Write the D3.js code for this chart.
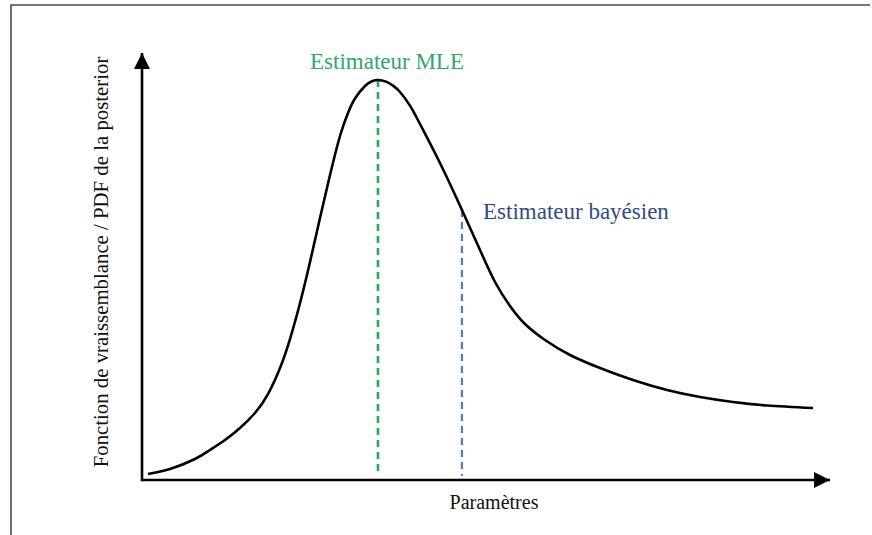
<!DOCTYPE html>
<html><head><meta charset="utf-8">
<script src="https://cdn.jsdelivr.net/npm/d3@7"></script>
<style>body{margin:0;background:#fff}svg{display:block}</style>
</head><body>
<svg id="c" width="872" height="535"></svg>
<script>
// Data (arbitrary units: parameter 0-100, density 0-100)
const paramValues = [0.87, 4.07, 7.70, 9.88, 12.06, 14.24, 16.42, 18.31, 20.06, 21.51, 22.97, 24.42, 25.87, 27.33, 28.78, 29.94, 30.96, 32.41, 33.43, 34.30, 35.47, 36.48, 37.50, 38.95, 40.41, 43.31, 46.51, 49.13, 51.31, 53.49, 55.67, 58.58, 62.21, 66.57, 71.37, 76.31, 81.10, 85.90, 90.84, 97.53];
const densityValues = [1.41, 2.58, 4.92, 7.03, 9.37, 12.18, 15.69, 20.14, 26.23, 33.02, 41.45, 51.05, 61.36, 71.43, 80.56, 85.95, 89.34, 92.27, 93.37, 93.68, 93.30, 92.37, 90.87, 87.68, 83.37, 74.24, 63.23, 53.86, 46.37, 40.75, 36.53, 32.79, 29.27, 26.23, 23.42, 21.08, 19.44, 18.27, 17.45, 16.86];
const estimatorNames = ["Estimateur MLE", "Estimateur bayésien"];
const estimatorParams = [34.3, 46.5];
const estimatorDensity = [93.68, 63.23];
const xAxisLabel = "Paramètres";
const yAxisLabel = "Fonction de vraissemblance / PDF de la posterior";

const svg = d3.select("#c");
const x = d3.scaleLinear().domain([0, 100]).range([142, 830]);
const y = d3.scaleLinear().domain([0, 100]).range([480, 53]);
const serif = "'Liberation Serif','Times New Roman',serif";

// frame
svg.append("path").attr("d", "M11,535 L11,5 L870,5").attr("fill", "none")
  .attr("stroke", "#4a4a4a").attr("stroke-width", 1.6);

const defs = svg.append("defs");
defs.append("marker").attr("id", "arr").attr("viewBox", "0 0 10 10")
  .attr("refX", 10).attr("refY", 5).attr("markerWidth", 16).attr("markerHeight", 16)
  .attr("markerUnits", "userSpaceOnUse").attr("orient", "auto")
  .append("path").attr("d", "M0,0 L10,5 L0,10 Z").attr("fill", "#000");

// axes
svg.append("line").attr("x1", x(0)).attr("y1", y(0)).attr("x2", x(100)).attr("y2", y(0))
  .attr("stroke", "#000").attr("stroke-width", 2.6).attr("marker-end", "url(#arr)");
svg.append("line").attr("x1", x(0)).attr("y1", y(0) + 1.3).attr("x2", x(0)).attr("y2", y(100))
  .attr("stroke", "#000").attr("stroke-width", 2.6).attr("marker-end", "url(#arr)");

// estimator lines
const lineColors = ["#1fae55", "#4a7bd0"];
const textColors = ["#2fa86a", "#2f4b8a"];
estimatorParams.forEach((p, i) => {
  svg.append("line").attr("x1", x(p)).attr("x2", x(p)).attr("y1", y(estimatorDensity[i])).attr("y2", y(1))
    .attr("stroke", lineColors[i]).attr("stroke-width", i === 0 ? 2.6 : 2.2)
    .attr("stroke-dasharray", "7,5");
});

// curve
const pts = paramValues.map((p, i) => [p, densityValues[i]]);
svg.append("path").datum(pts)
  .attr("d", d3.line().x(d => x(d[0])).y(d => y(d[1])).curve(d3.curveNatural))
  .attr("fill", "none").attr("stroke", "#000").attr("stroke-width", 2.6);

// labels
svg.append("text").attr("x", 387).attr("y", 69).attr("text-anchor", "middle")
  .attr("font-family", serif).attr("font-size", 23).attr("fill", textColors[0]).text(estimatorNames[0]);
svg.append("text").attr("x", 483).attr("y", 219)
  .attr("font-family", serif).attr("font-size", 23).attr("fill", textColors[1]).text(estimatorNames[1]);
svg.append("text").attr("x", 494).attr("y", 509).attr("text-anchor", "middle")
  .attr("font-family", serif).attr("font-size", 20).attr("fill", "#111").text(xAxisLabel);
svg.append("text").attr("transform", "translate(108,262) rotate(-90)").attr("text-anchor", "middle")
  .attr("font-family", serif).attr("font-size", 20.8).attr("fill", "#111").text(yAxisLabel);
</script>
</body></html>
